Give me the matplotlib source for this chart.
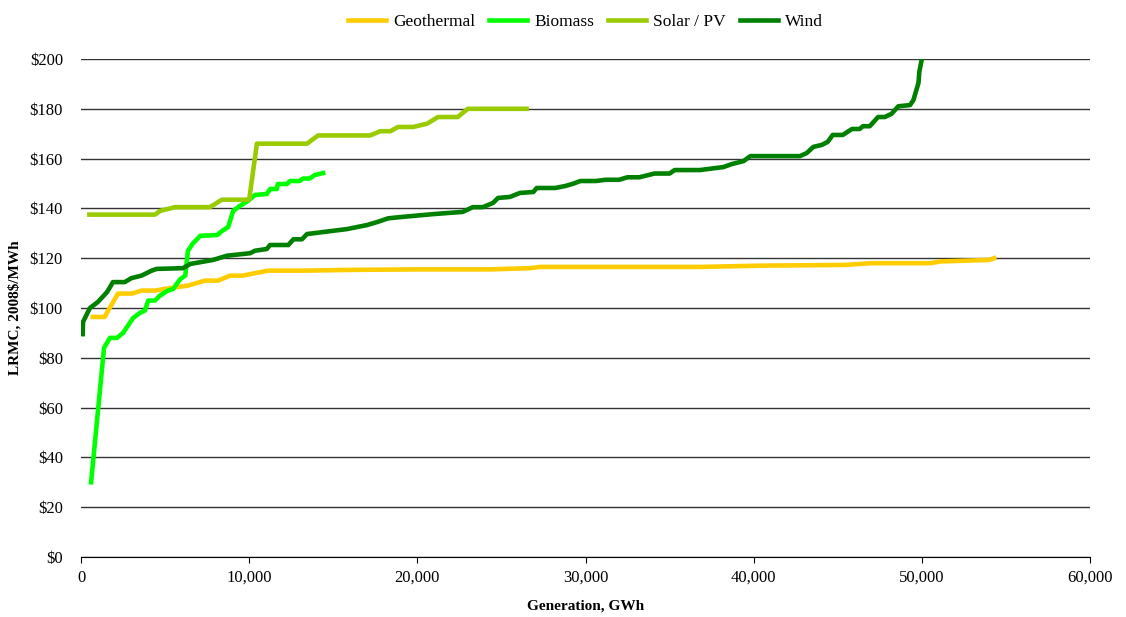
import matplotlib.pyplot as plt
from matplotlib.ticker import FuncFormatter

# Supply curves, generation (GWh) vs LRMC (2008$/MWh)
geo_x = [700, 1400, 2200, 3030, 3600, 4400, 5300, 6360, 7370, 8150, 8860, 9630,
         11100, 13200, 16000, 20000, 24300, 26700, 27300, 36800, 40400, 45400,
         47000, 50500, 51100, 54000, 54300]
geo_y = [96.4, 96.4, 105.8, 105.8, 107, 107, 108, 109, 111, 111, 113, 113,
         115, 115, 115.3, 115.5, 115.5, 116, 116.5, 116.5, 117, 117.3,
         118, 118, 118.7, 119.3, 120]

bio_x = [600, 1370, 1720, 2140, 2500, 3100, 3500, 3800, 4000, 4400, 4700, 5170,
         5470, 5900, 6200, 6360, 6660, 7100, 8100, 8400, 8750, 9050, 9450, 9930,
         10350, 11050, 11250, 11650, 11700, 12250, 12430, 13000, 13200, 13600,
         13900, 14400]
bio_y = [30, 84, 88, 88, 90, 96, 98, 99, 103, 103, 105, 107,
         107.6, 111.6, 113, 123, 126, 129, 129.3, 131, 132.5, 139, 141, 143,
         145.4, 145.8, 147.8, 147.8, 149.8, 149.8, 151, 151, 152, 152,
         153.4, 154.2]

sol_x = [500, 4400, 4700, 5600, 7670, 8380, 9870, 10000, 10460, 13440, 14100,
         17200, 17800, 18400, 18850, 19750, 20570, 21230, 22400, 23000, 26500]
sol_y = [137.5, 137.5, 139, 140.5, 140.5, 143.5, 143.5, 143.5, 166, 166, 169.3,
         169.3, 171, 171, 172.7, 172.7, 174, 176.7, 176.7, 180, 180]

wind_x = [100, 120, 530, 1000, 1550, 1900, 2600, 3000, 3600, 4200, 4500, 6070,
          6500, 7850, 8680, 10050, 10350, 11050, 11240, 12330, 12630, 13140,
          13440, 15820, 17000, 17600, 18260, 18970, 20930, 22700, 23300, 23900,
          24500, 24800, 25500, 26100, 26900, 27100, 28200, 28800, 29300, 29700,
          30600, 31200, 32000, 32500, 33200, 33500, 34100, 35000, 35300, 36800,
          38200, 38700, 39400, 39800, 42750, 43150, 43550, 44050, 44400, 44700,
          45300, 45850, 46300, 46500, 46900, 47400, 47800, 48200, 48600, 49300,
          49500, 49800, 49850, 50000, 50100]
wind_y = [89.5, 94.4, 100, 102.4, 106.4, 110.4, 110.4, 112, 113, 115, 115.7, 116,
          117.7, 119.3, 121, 122, 123, 123.7, 125.3, 125.3, 127.6, 127.6,
          129.7, 131.7, 133.3, 134.5, 136, 136.5, 137.7, 138.6, 140.5, 140.5,
          142.2, 144.2, 144.6, 146.2, 146.6, 148.2, 148.2, 149, 150, 151,
          151, 151.5, 151.5, 152.5, 152.5, 153, 154, 154, 155.4, 155.4,
          156.6, 157.8, 159, 161, 161, 162.2, 164.7, 165.5, 166.7, 169.5,
          169.5, 171.9, 171.9, 173, 173, 176.7, 176.7, 178, 181, 181.5,
          183.5, 190.4, 194.8, 200, 206]

series = [
    ("Geothermal", geo_x, geo_y, "#FFCC00"),
    ("Biomass", bio_x, bio_y, "#00FF00"),
    ("Solar / PV", sol_x, sol_y, "#99CC00"),
    ("Wind", wind_x, wind_y, "#008000"),
]

plt.rcParams["font.family"] = ["Liberation Serif", "DejaVu Serif"]

fig = plt.figure(figsize=(11.26, 6.17), dpi=100)
ax = fig.add_axes([81 / 1126, 1 - 557 / 617, (1090 - 81) / 1126, (557 - 59) / 617])

for name, xs, ys, col in series:
    ax.plot(xs, ys, color=col, linewidth=3.3, label=name, solid_joinstyle="round")

ax.set_xlim(0, 60000)
ax.set_ylim(0, 200)
ax.set_xticks(range(0, 60001, 10000))
ax.set_yticks(range(0, 201, 20))
ax.xaxis.set_major_formatter(FuncFormatter(lambda v, p: f"{int(v):,}"))
ax.yaxis.set_major_formatter(FuncFormatter(lambda v, p: f"${int(v)}"))
ax.grid(axis="y", color="#333333", linewidth=1)
ax.set_axisbelow(True)

for s in ["top", "right", "left"]:
    ax.spines[s].set_visible(False)
ax.spines["bottom"].set_color("black")
ax.tick_params(axis="y", length=0, labelsize=12, pad=13)
ax.tick_params(axis="x", length=4, direction="out", labelsize=12, pad=5)

ax.set_xlabel("Generation, GWh", fontsize=11, fontweight="bold", labelpad=10)
ax.set_ylabel("LRMC, 2008$/MWh", fontsize=11, fontweight="bold", labelpad=6)

ax.legend(loc="lower center", bbox_to_anchor=(0.5, 1.045), ncol=4, frameon=False,
          fontsize=12.5, handlelength=2.2, handletextpad=0.4, columnspacing=0.8,
          borderaxespad=0)

fig.savefig("out.png", dpi=100)
